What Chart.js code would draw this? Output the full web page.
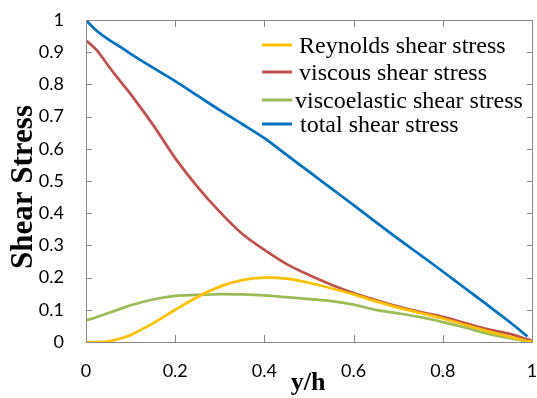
<!DOCTYPE html>
<html>
<head>
<meta charset="utf-8">
<script src="https://cdn.jsdelivr.net/npm/chart.js@4.4.1/dist/chart.umd.min.js"></script>
<style>
  html, body { margin: 0; padding: 0; background: #fff; }
  #wrap { width: 537px; height: 398px; position: relative; }
</style>
</head>
<body>
<div id="wrap"><canvas id="chart"></canvas></div>
<script>
// y/h positions shared by all curves
const yh = [0, 0.01, 0.025, 0.05, 0.075, 0.1, 0.15, 0.2, 0.25, 0.3, 0.35, 0.4, 0.45, 0.5,
  0.55, 0.6, 0.65, 0.7, 0.75, 0.8, 0.85, 0.9, 0.95, 0.99, 1];

const reynolds = [0, 0, 0, 0.002, 0.01, 0.022, 0.058, 0.1, 0.14, 0.172, 0.192, 0.2, 0.197, 0.184,
  0.167, 0.148, 0.126, 0.107, 0.09, 0.073, 0.053, 0.034, 0.016, 0.003, 0];
const viscous = [0.936, 0.925, 0.905, 0.858, 0.813, 0.77, 0.675, 0.571, 0.482, 0.404, 0.336, 0.286, 0.242, 0.208,
  0.178, 0.152, 0.13, 0.11, 0.093, 0.078, 0.059, 0.04, 0.025, 0.008, 0.004];
const viscoelastic = [0.067, 0.071, 0.078, 0.09, 0.102, 0.114, 0.132, 0.143, 0.146, 0.149, 0.148, 0.145, 0.139, 0.133,
  0.127, 0.116, 0.1, 0.089, 0.077, 0.062, 0.045, 0.026, 0.012, 0.003, 0];
const total = [1.0, 0.985, 0.965, 0.94, 0.918, 0.895, 0.852, 0.81, 0.765, 0.72, 0.677, 0.633, 0.581, 0.529,
  0.477, 0.425, 0.372, 0.32, 0.27, 0.219, 0.167, 0.115, 0.062, 0.017, null];

const xTicks = [0, 0.2, 0.4, 0.6, 0.8, 1];
const yTicks = [0, 0.1, 0.2, 0.3, 0.4, 0.5, 0.6, 0.7, 0.8, 0.9, 1];

const seriesNames = ['Reynolds shear stress', 'viscous shear stress', 'viscoelastic shear stress', 'total shear stress'];
const seriesColors = ['#FFC000', '#C0504D', '#9BBB59', '#0070C0'];

const toPoints = arr => yh.map((x, i) => ({ x, y: arr[i] })).filter(p => p.y !== null);
const fmt = v => (v === 0 || v === 1) ? String(v) : v.toFixed(1);

// axis titles
const titlePlugin = {
  id: 'axisTitles',
  afterDraw(chart) {
    const ctx = chart.ctx;
    ctx.save();
    ctx.fillStyle = '#000';
    ctx.textAlign = 'center';
    ctx.textBaseline = 'alphabetic';
    ctx.font = 'bold 26px "Liberation Serif", "Times New Roman", serif';
    ctx.fillText('y/h', 308, 390);
    ctx.translate(32, 187);
    ctx.rotate(-Math.PI / 2);
    ctx.font = 'bold 31px "Liberation Serif", "Times New Roman", serif';
    ctx.fillText('Shear Stress', 0, 0);
    ctx.restore();
  }
};

// legend inside the plot, top right
const legendPlugin = {
  id: 'innerLegend',
  afterDraw(chart) {
    const ctx = chart.ctx;
    const rowsY = [45, 72, 100, 124];
    const textX = [299, 299, 295, 300];
    ctx.save();
    ctx.font = '24px "Liberation Serif", "Times New Roman", serif';
    ctx.textAlign = 'left';
    ctx.textBaseline = 'alphabetic';
    chart.data.datasets.forEach((ds, i) => {
      ctx.fillStyle = ds.borderColor;
      ctx.fillRect(262, rowsY[i] - 1.5, 30, 3);
      ctx.fillStyle = '#000';
      ctx.fillText(ds.label, textX[i], rowsY[i] + 8);
    });
    ctx.restore();
  }
};

// gray box round the plot with ticks pointing inward (1px filled rects)
const framePlugin = {
  id: 'frame',
  afterDraw(chart) {
    const ctx = chart.ctx, a = chart.chartArea;
    const sx = chart.scales.x, sy = chart.scales.y;
    const L = Math.round(a.left), R = Math.round(a.right);
    const T = Math.round(a.top), B = Math.round(a.bottom);
    ctx.save();
    ctx.globalAlpha = 1;
    ctx.globalCompositeOperation = 'source-over';
    ctx.fillStyle = '#8a8a8a';
    ctx.fillRect(L, T, R - L + 1, 1);
    ctx.fillRect(L, B, R - L + 1, 1);
    ctx.fillRect(L, T, 1, B - T + 1);
    ctx.fillRect(R, T, 1, B - T + 1);
    xTicks.slice(1, -1).forEach(v => {
      const px = Math.round(sx.getPixelForValue(v));
      ctx.fillRect(px, B - 7, 1, 7);
      ctx.fillRect(px, T, 1, 7);
    });
    yTicks.slice(1, -1).forEach(v => {
      const py = Math.round(sy.getPixelForValue(v));
      ctx.fillRect(L, py, 6, 1);
      ctx.fillRect(R - 5, py, 6, 1);
    });
    ctx.restore();
  }
};

new Chart(document.getElementById('chart'), {
  type: 'line',
  data: {
    datasets: [reynolds, viscous, viscoelastic, total].map((arr, i) => ({
      label: seriesNames[i],
      data: toPoints(arr),
      borderColor: seriesColors[i],
      borderWidth: 2.75,
      pointRadius: 0,
      tension: 0.3
    }))
  },
  options: {
    responsive: true,
    maintainAspectRatio: false,
    animation: false,
    layout: { padding: { top: 20, right: 5, left: 0, bottom: 0 } },
    plugins: { legend: { display: false }, tooltip: { enabled: false } },
    scales: {
      x: {
        type: 'linear', min: 0, max: 1,
        afterFit: s => { s.height = 56; s.paddingLeft = 0; s.paddingRight = 0; },
        afterBuildTicks: s => { s.ticks = xTicks.map(value => ({ value })); },
        grid: { display: false, drawTicks: false },
        border: { display: true, color: '#8a8a8a', width: 1 },
        ticks: { padding: 18, color: '#000', font: { family: 'Lato', size: 18 }, callback: fmt }
      },
      y: {
        min: 0, max: 1,
        afterFit: s => { s.width = 86; s.paddingTop = 0; s.paddingBottom = 0; },
        afterBuildTicks: s => { s.ticks = yTicks.map(value => ({ value })); },
        grid: { display: false, drawTicks: false },
        border: { display: true, color: '#8a8a8a', width: 1 },
        ticks: { padding: 22, color: '#000', font: { family: 'Lato', size: 18 }, callback: fmt }
      }
    }
  },
  plugins: [titlePlugin, legendPlugin, framePlugin]
});
</script>
</body>
</html>
